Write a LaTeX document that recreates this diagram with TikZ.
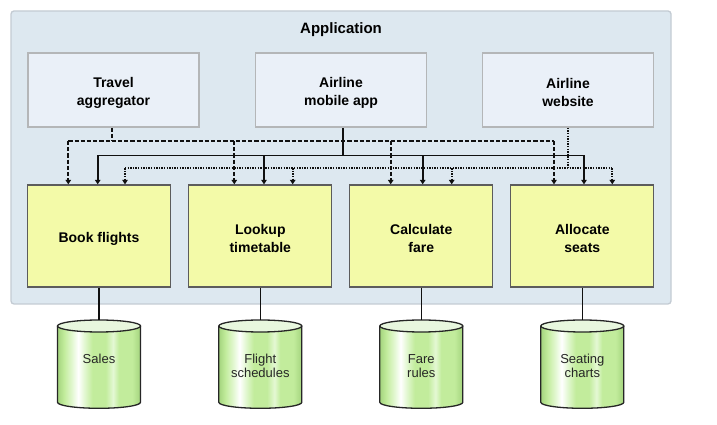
\documentclass[tikz,border=0pt]{standalone}
\usepackage{fontspec}
\setmainfont{Liberation Sans}
\usetikzlibrary{arrows.meta}
\definecolor{appfill}{HTML}{DDE8F0}
\definecolor{appdraw}{HTML}{C3CBD3}
\definecolor{topfill}{HTML}{EAF0F8}
\definecolor{topdraw}{HTML}{B4B6B8}
\definecolor{svcfill}{HTML}{F3FAA8}
\definecolor{svcdraw}{HTML}{5C5C5C}
\definecolor{cylA}{HTML}{A4D47E}
\definecolor{cylB}{HTML}{C2EC9C}
\definecolor{cylC}{HTML}{E4F8D4}
\definecolor{cyltop}{HTML}{E8F7DE}
\definecolor{lineclr}{HTML}{101010}
\pgfdeclarehorizontalshading{cylstripes}{100bp}{color(0bp)=(cylA); color(25bp)=(cylA); color(29bp)=(cylB); color(34bp)=(cylC); color(37.5bp)=(white); color(41bp)=(cylC); color(46bp)=(cylB); color(54bp)=(cylB); color(58.5bp)=(cylC); color(62bp)=(cylB); color(70bp)=(cylB); color(75bp)=(cylA); color(100bp)=(cylA)}
\newcommand\dbcyl[1]{%
  \shade[shading=cylstripes] (#1-41.5,99) -- (#1-41.5,22.7) arc[start angle=180,end angle=360,x radius=41.5pt,y radius=6pt] -- (#1+41.5,99) arc[start angle=0,end angle=180,x radius=41.5pt,y radius=6pt] -- cycle;
  \draw[cylline,fill=cyltop] (#1,99) ellipse[x radius=41.5pt,y radius=6pt];
  \draw[cylline] (#1-41.5,99) -- (#1-41.5,22.7) arc[start angle=180,end angle=360,x radius=41.5pt,y radius=6pt] -- (#1+41.5,99);
}
\tikzset{
  cylline/.style={draw=black!85, line width=1.3pt},
  boxtext/.style={align=center, inner sep=0pt, font=\fontsize{14}{18}\selectfont\bfseries},
  topbox/.style={draw=topdraw, fill=topfill, line width=1.6pt, minimum width=171pt, minimum height=74pt, inner sep=0pt},
  svcbox/.style={draw=svcdraw, fill=svcfill, line width=1.3pt, minimum width=143pt, minimum height=102pt, inner sep=0pt},
  dbnode/.style={minimum width=83pt, minimum height=88pt, inner sep=0pt},
  dblabel/.style={align=center, font=\fontsize{13}{14}\selectfont, text=black!85},
  conn/.style={draw=lineclr, line width=1.6pt},
  arr/.style={-{Triangle[length=4.5pt,width=5.5pt]}},
  dsh/.style={conn, line width=1.9pt, dash pattern=on 4.2pt off 2pt},
  dtt/.style={conn, line width=1.8pt, dash pattern=on 1.4pt off 1.2pt},
  sld/.style={conn, line width=1.7pt},
}
\begin{document}
\begin{tikzpicture}[x=1pt,y=1pt]
\useasboundingbox (0,0) rectangle (717,425);
% container
\draw[rounded corners=3pt, fill=appfill, draw=appdraw, line width=1.3pt] (11,121) rectangle (671,414);
\node[font=\fontsize{15}{18}\selectfont\bfseries] (title) at (341,395.5) {Application};
% top boxes
\node[topbox, label={[boxtext,yshift=-3pt]center:{Travel\\aggregator}}] (ta) at (113.5,335) {};
\node[topbox, label={[boxtext,yshift=-3pt]center:{Airline\\mobile app}}] (ma) at (341,335) {};
\node[topbox, label={[boxtext,yshift=-3pt]center:{Airline\\website}}] (ws) at (568,335) {};
% service boxes
\node[svcbox, label={[boxtext,yshift=-3pt]center:{Book flights}}] (bf) at (99,189) {};
\node[svcbox, label={[boxtext,yshift=-3pt]center:{Lookup\\timetable}}] (lt) at (260.3,189) {};
\node[svcbox, label={[boxtext,yshift=-3pt]center:{Calculate\\fare}}] (cf) at (421.3,189) {};
\node[svcbox, label={[boxtext,yshift=-3pt]center:{Allocate\\seats}}] (as) at (582.3,189) {};
% databases
\dbcyl{99}
\dbcyl{260.3}
\dbcyl{421.3}
\dbcyl{582.3}
\node[dbnode] (db1) at (99,61) {};
\node[dbnode] (db2) at (260.3,61) {};
\node[dbnode] (db3) at (421.3,61) {};
\node[dbnode] (db4) at (582.3,61) {};
\node[dblabel] at ([yshift=5pt]db1.center) {Sales};
\node[dblabel] at ([yshift=-2pt]db2.center) {Flight\\schedules};
\node[dblabel] at ([yshift=-2pt]db3.center) {Fare\\rules};
\node[dblabel] at ([yshift=-2pt]db4.center) {Seating\\charts};
% bus levels
\coordinate (ydash) at (0,284);
\coordinate (ysol) at (0,269.5);
\coordinate (ydot) at (0,256.7);
% drop points
\coordinate (d1) at ([xshift=-30.7pt]bf.north);
\coordinate (d2) at ([xshift=-26pt]lt.north);
\coordinate (d3) at ([xshift=-30.6pt]cf.north);
\coordinate (d4) at ([xshift=-28.3pt]as.north);
\coordinate (s1) at ([xshift=-1.3pt]bf.north);
\coordinate (s2) at ([xshift=3.7pt]lt.north);
\coordinate (s3) at ([xshift=1.4pt]cf.north);
\coordinate (s4) at ([xshift=1.7pt]as.north);
\coordinate (t1) at ([xshift=26pt]bf.north);
\coordinate (t2) at ([xshift=32.4pt]lt.north);
\coordinate (t3) at ([xshift=30.4pt]cf.north);
\coordinate (t4) at ([xshift=30pt]as.north);
% dashed (travel aggregator)
\draw[dsh] ([xshift=-1.2pt]ta.south) -- ([xshift=-1.2pt]ta.south |- ydash);
\draw[dsh] (d1 |- ydash) -- (d4 |- ydash);
\foreach \d in {d1,d2,d3,d4} \draw[dsh,arr] (\d |- ydash) -- (\d);
% solid (mobile app)
\draw[sld] ([xshift=2pt]ma.south) -- ([xshift=2pt]ma.south |- ysol);
\draw[sld] (s1 |- ysol) -- (s4 |- ysol);
\foreach \d in {s1,s2,s3,s4} \draw[sld,arr] (\d |- ysol) -- (\d);
% dotted (website)
\draw[dtt] (ws.south) -- (ws.south |- ydot);
\draw[dtt] (t1 |- ydot) -- (t4 |- ydot);
\foreach \d in {t1,t2,t3,t4} \draw[dtt,arr] (\d |- ydot) -- (\d);
% service to database
\draw[conn, line width=1.3pt] (bf.south) -- (db1.north);
\draw[conn, line width=1.3pt] (lt.south) -- (db2.north);
\draw[conn, line width=1.3pt] (cf.south) -- (db3.north);
\draw[conn, line width=1.3pt] (as.south) -- (db4.north);
\end{tikzpicture}
\end{document}
